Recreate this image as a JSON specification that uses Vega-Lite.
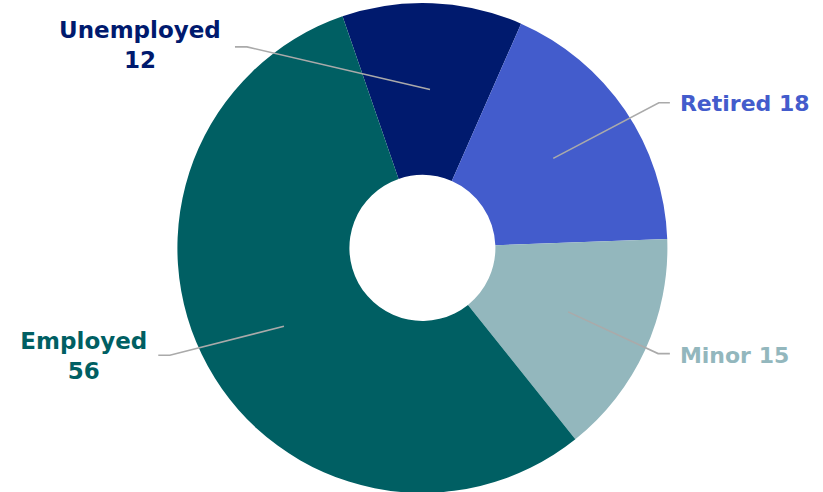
{
  "$schema": "https://vega.github.io/schema/vega-lite/v6.json",
  "width": 823,
  "height": 492,
  "autosize": {"type": "fit", "contains": "padding"},
  "padding": 0,
  "background": "white",
  "config": {"view": {"stroke": null}, "text": {"lineBreak": "\n"}},
  "datasets": {
    "slices": [
      {"category": "Unemployed", "value": 12, "rank": 1},
      {"category": "Retired", "value": 18, "rank": 2},
      {"category": "Minor", "value": 15, "rank": 3},
      {"category": "Employed", "value": 56, "rank": 4}
    ],
    "leaders": [
      {"category": "Unemployed", "seq": 1, "x": -76.5, "y": 82.4},
      {"category": "Unemployed", "seq": 2, "x": -71.6, "y": 82.4},
      {"category": "Unemployed", "seq": 3, "x": 3.1, "y": 64.9},
      {"category": "Retired", "seq": 1, "x": 53.4, "y": 36.7},
      {"category": "Retired", "seq": 2, "x": 96.5, "y": 59.5},
      {"category": "Retired", "seq": 3, "x": 101.0, "y": 59.5},
      {"category": "Minor", "seq": 1, "x": 59.5, "y": -26.2},
      {"category": "Minor", "seq": 2, "x": 96.2, "y": -43.3},
      {"category": "Minor", "seq": 3, "x": 101.0, "y": -43.3},
      {"category": "Employed", "seq": 1, "x": -107.8, "y": -44.0},
      {"category": "Employed", "seq": 2, "x": -103.1, "y": -44.0},
      {"category": "Employed", "seq": 3, "x": -56.5, "y": -32.1}
    ],
    "labels": [
      {"category": "Unemployed", "label": "Unemployed\n12", "side": "left", "x": -115.3, "y": 89.0},
      {"category": "Retired", "label": "Retired 18", "side": "right", "x": 105.1, "y": 58.8},
      {"category": "Minor", "label": "Minor 15", "side": "right", "x": 105.1, "y": -44.1},
      {"category": "Employed", "label": "Employed\n56", "side": "left", "x": -138.2, "y": -38.4}
    ]
  },
  "layer": [
    {
      "data": {"name": "slices"},
      "mark": {"type": "arc", "innerRadius": 73, "outerRadius": 245},
      "encoding": {
        "theta": {"field": "value", "type": "quantitative", "stack": true, "scale": {"range": [-0.332, 5.951]}},
        "order": {"field": "rank", "type": "quantitative"},
        "color": {"field": "category", "type": "nominal", "legend": null,
          "scale": {"domain": ["Unemployed", "Retired", "Minor", "Employed"], "range": ["#001a6e", "#435ccc", "#93b7bd", "#005f63"]}},
        "x": {"datum": 0, "type": "quantitative", "scale": {"domain": [-172.4, 163.5], "nice": false, "zero": false}, "axis": null},
        "y": {"datum": 0, "type": "quantitative", "scale": {"domain": [-99.2, 101.6], "nice": false, "zero": false}, "axis": null}
      }
    },
    {
      "data": {"name": "leaders"},
      "mark": {"type": "line", "color": "#aaaaaa", "strokeWidth": 1.6},
      "encoding": {
        "x": {"field": "x", "type": "quantitative"},
        "y": {"field": "y", "type": "quantitative"},
        "detail": {"field": "category"},
        "order": {"field": "seq", "type": "quantitative"}
      }
    },
    {
      "data": {"name": "labels"},
      "transform": [{"filter": "datum.side === 'left'"}],
      "mark": {"type": "text", "align": "center", "baseline": "middle", "font": "DejaVu Sans", "fontWeight": "bold", "fontSize": 23, "lineHeight": 30},
      "encoding": {
        "x": {"field": "x", "type": "quantitative"},
        "y": {"field": "y", "type": "quantitative"},
        "text": {"field": "label"},
        "color": {"field": "category", "type": "nominal", "legend": null}
      }
    },
    {
      "data": {"name": "labels"},
      "transform": [{"filter": "datum.side === 'right'"}],
      "mark": {"type": "text", "align": "left", "baseline": "middle", "font": "DejaVu Sans", "fontWeight": "bold", "fontSize": 22, "lineHeight": 30},
      "encoding": {
        "x": {"field": "x", "type": "quantitative"},
        "y": {"field": "y", "type": "quantitative"},
        "text": {"field": "label"},
        "color": {"field": "category", "type": "nominal", "legend": null}
      }
    }
  ]
}
